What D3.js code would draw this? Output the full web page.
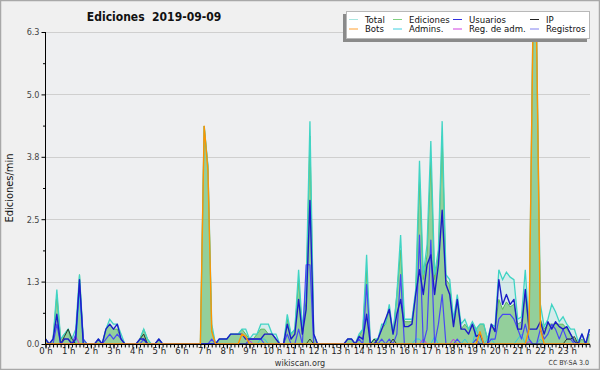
<!DOCTYPE html>
<html>
<head>
<meta charset="utf-8">
<script src="https://cdn.jsdelivr.net/npm/d3@7"></script>
<style>
  body { margin: 0; background: #fff; }
  svg { display: block; }
  text { font-family: "DejaVu Sans Condensed", "DejaVu Sans", sans-serif; font-stretch: condensed; }
</style>
</head>
<body>
<div id="chart"></div>
<script>
// 10-minute slots, values in actions per minute (0h00 .. 24h00)
var total = [
  0.1,0,0.1,1.1,0.1,0.2, 0.3,0.1,0.3,1.4,0.1,0,
  0,0,0.1,0,0.3,0.5, 0.4,0.4,0.2,0,0,0,
  0,0.1,0.3,0.1,0,0, 0.1,0,0,0,0,0,
  0,0,0,0,0,0, 4.4,3.6,0.4,0,0.1,0.1,
  0.1,0.2,0.2,0.2,0.3,0.3, 0.1,0.2,0.2,0.4,0.4,0.4,
  0.2,0.2,0,0,0.6,0.2, 0.3,1.5,0.3,1.2,4.5,0.2,
  0,0,0,0,0,0, 0,0,0.1,0.1,0,0.2,
  0.3,1.8,0,0.1,0.1,0.4, 0.4,0.8,0.2,1.0,2.2,0.5,
  0.5,0.5,1.1,3.7,1.4,2.0, 4.1,1.4,1.9,4.5,1.4,1.3,
  0.5,1.0,0.4,0.5,0.3,0.45, 0.3,0.4,0.4,0.1,0.4,0.35,
  1.5,1.3,1.45,1.35,1.3,0.5, 0.55,1.5,0.3,6.3,6.2,0.8,
  0.35,0.5,0.8,0.65,0.45,0.55, 0.4,0.3,0.3,0.05,0.2,0,
  0.3
];
var ediciones = [
  0.1,0,0.1,1.0,0.1,0.2, 0.3,0,0.1,1.4,0.1,0,
  0,0,0.1,0,0.3,0.4, 0.3,0.3,0.1,0,0,0,
  0,0.1,0.3,0.1,0,0, 0.1,0,0,0,0,0,
  0,0,0,0,0,0, 4.4,3.6,0.3,0,0.1,0.1,
  0.1,0.2,0.2,0.2,0.3,0.2, 0.1,0.1,0.2,0.3,0.3,0.2,
  0.2,0.1,0,0,0.5,0.2, 0.3,1.3,0.2,0.9,4.2,0.2,
  0,0,0,0,0,0, 0,0,0.1,0.1,0,0.15,
  0.3,1.5,0,0.1,0.1,0.3, 0.4,0.7,0.2,1.0,1.9,0.45,
  0.45,0.45,1.0,3.3,1.3,1.8, 3.7,1.3,1.8,4.2,1.3,1.2,
  0.4,0.9,0.3,0.4,0.3,0.4, 0.3,0.4,0.4,0.1,0.35,0.3,
  0.9,0.7,0.85,0.75,0.8,0.4, 0.45,1.0,0.3,6.2,6.1,0.5,
  0.3,0.4,0.4,0.4,0.4,0.4, 0.3,0.2,0.1,0,0.1,0,
  0.2
];
var usuarios = [
  0.1,0,0.1,0.6,0,0.1, 0.1,0,0.1,1.3,0,0,
  0,0,0.1,0,0.3,0.4, 0.3,0.4,0.1,0,0,0,
  0,0.1,0.1,0,0,0, 0.1,0,0,0,0,0,
  0,0,0,0,0,0, 0,0,0,0,0.1,0.1,
  0.1,0.2,0.2,0.2,0.2,0.1, 0.1,0.1,0.1,0.1,0.2,0.2,
  0.2,0.1,0,0,0.4,0.1, 0.2,0.9,0.2,0.7,2.9,0.2,
  0,0,0,0,0,0, 0,0,0.1,0.1,0,0.15,
  0.1,0.6,0,0,0.1,0.3, 0.5,0.7,0.2,0.6,0.9,0.35,
  0.35,0.4,1.0,1.5,1.0,1.6, 1.8,1.0,1.6,2.7,1.2,1.0,
  0.35,0.9,0.3,0.3,0.2,0.4, 0.15,0.2,0,0,0.4,0.25,
  1.3,0.8,1.0,0.8,0.9,0.3, 0.3,1.1,0.3,0.3,0.3,0.45,
  0.2,0.45,0.3,0.45,0.35,0.3, 0.35,0.2,0.05,0,0.2,0,
  0.3
];
var registros = [
  0,0,0,0.4,0,0, 0,0,0.2,1.2,0.1,0,
  0,0,0,0,0.1,0.2, 0.1,0.2,0.1,0,0,0,
  0,0,0.1,0,0,0, 0,0,0,0,0,0,
  0,0,0,0,0,0, 0,0,0.1,0,0,0,
  0,0,0,0,0,0, 0.1,0.1,0.1,0.1,0,0,
  0,0,0,0,0.2,0, 0,0.3,0,1.6,1.6,0,
  0,0,0,0,0,0, 0,0,0,0,0,0.1,
  0,1.2,0,0,0,0.1, 0,0.1,0,0.2,1.4,0,
  0,0,0,2.2,0,0.3, 2.1,0,0.4,1.0,0,0,
  0,0.1,0,0,0,0, 0.1,0,0,0,0.1,0.1,
  0.5,0.6,0.6,0.6,0.5,0.3, 0.1,0.4,0.1,0,0,0.3,
  0.1,0.2,0.4,0.3,0.1,0.3, 0.1,0.1,0,0,0,0,
  0
];
var ip = [
  0,0,0,0,0,0.15, 0.3,0.1,0,0,0,0,
  0,0,0,0,0,0, 0,0,0,0,0,0,
  0,0.1,0.2,0,0,0, 0.1,0,0,0,0,0,
  0,0,0,0,0,0, 0,0,0,0,0,0,
  0,0,0,0,0,0, 0,0,0,0,0,0,
  0,0,0,0,0,0, 0,0,0,0,0.1,0,
  0,0,0,0,0,0, 0,0,0,0,0,0,
  0,0,0,0.1,0,0, 0,0,0.1,0,0,0,
  0,0,0,0,0,0, 0,0,0,0,0,0,
  0,0,0,0,0,0, 0,0,0,0,0,0,
  0,0,0,0,0,0, 0,0,0,0,0,0,
  0,0,0,0,0,0, 0.1,0.1,0.15,0,0,0,
  0
];
var bots = [
  0,0,0,0,0,0, 0,0,0,0,0,0,
  0,0,0,0,0,0, 0,0,0,0,0,0,
  0,0,0,0,0,0, 0,0,0,0,0,0,
  0,0,0,0,0,0, 4.4,3.5,0.25,0,0,0,
  0,0,0,0,0.2,0.15, 0,0,0,0,0,0,
  0,0,0,0,0,0, 0,0,0,0,0,0,
  0,0,0,0,0,0, 0,0,0,0,0,0,
  0,0,0,0,0,0, 0,0,0,0,0,0,
  0,0,0,0,0,0, 0,0,0,0,0,0,
  0,0,0,0,0,0, 0,0.25,0,0,0,0,
  0,0,0,0,0,0, 0,0,0.3,6.2,6.2,0.3,
  0,0,0,0,0,0, 0,0,0,0,0,0,
  0
];
var admins = [
  0,0,0,0,0,0, 0,0,0,1.0,0,0,
  0,0,0,0,0,0, 0,0,0,0,0,0,
  0,0,0,0,0,0, 0,0,0,0,0,0,
  0,0,0,0,0,0, 0,0,0,0,0,0,
  0,0,0,0,0,0, 0,0,0,0.1,0.1,0,
  0,0,0,0,0,0, 0,0,0,0,0,0,
  0,0,0,0,0,0, 0,0,0,0,0,0,
  0,0,0,0,0,0, 0,0,0,0,0,0,
  0,0,0.1,0.1,0,0, 0,0.15,0,0,0,0,
  0,0,0,0.1,0,0, 0.3,0.1,0,0.1,0.1,0,
  0,0,0,0,0,0.1, 0.2,0,0.1,0,0,0.1,
  0,0,0,0,0,0, 0,0,0,0,0,0,
  0
];
var regAdm = [
  0,0,0,0,0,0, 0,0,0.15,0,0,0,
  0,0,0,0,0,0, 0,0,0,0,0,0,
  0,0,0,0,0,0, 0,0,0,0,0,0,
  0,0,0,0,0,0, 0,0,0,0,0,0,
  0,0,0,0,0,0, 0.07,0,0,0,0,0,
  0,0,0,0,0,0, 0,0,0,0,0,0,
  0,0,0,0,0,0, 0,0,0,0,0,0,
  0,0,0,0,0,0, 0,0,0,0,0,0,
  0,0,0,0,0.1,0, 0,0,0,0,0,0,
  0.1,0,0,0,0,0, 0,0,0,0,0,0,
  0,0,0,0,0,0, 0,0,0.05,0,0,0,
  0,0,0,0,0,0, 0,0,0,0,0,0,
  0
];

var yMax = 6.3;
var yTickLabels = ["0.0", "1.3", "2.5", "3.8", "5.0", "6.3"];
var hourLabels = d3.range(0, 24).map(function(h) { return h + " h"; });

var legendItems = [
  { name: "Total", color: "#a8e6e0" },
  { name: "Bots", color: "#ffa030" },
  { name: "Ediciones", color: "#80d080" },
  { name: "Admins.", color: "#40d0e0" },
  { name: "Usuarios", color: "#3030e0" },
  { name: "Reg. de adm.", color: "#d040e0" },
  { name: "IP", color: "#222222" },
  { name: "Registros", color: "#8080f0" }
];

var W = 600, H = 370;
var svg = d3.select("#chart").append("svg").attr("width", W).attr("height", H);

// background and frame
svg.append("rect").attr("x", 0.5).attr("y", 0.5).attr("width", W - 1).attr("height", H - 1)
  .attr("fill", "#f0f0f0").attr("stroke", "#a8a8a8").attr("stroke-width", 1.5);
svg.append("rect").attr("x", 45).attr("y", 32).attr("width", 545).attr("height", 312)
  .attr("fill", "#eeeff1");

var x = d3.scaleLinear().domain([0, 24]).range([45.5, 589.5]);
var y = d3.scaleLinear().domain([0, yMax]).range([344, 32]);

var yTicks = yTickLabels.map(function(l, i) { return yMax * i / 5; });
var yMinor = d3.range(0, 5).map(function(i) { return yMax * (i + 0.5) / 5; });

// grid
svg.append("g").selectAll("line").data(yTicks.slice(1)).enter().append("line")
  .attr("x1", 46).attr("x2", 590)
  .attr("y1", function(d) { return Math.round(y(d)) + 0.5; })
  .attr("y2", function(d) { return Math.round(y(d)) + 0.5; })
  .attr("stroke", "#cfcfcf").attr("stroke-width", 1);

function xv(d, i) { return x(i / 6); }

var areaOf = function(arr) {
  return d3.area().x(xv).y0(y(0)).y1(function(d) { return y(d); })(arr);
};
var lineOf = function(arr) {
  return d3.line().x(xv).y(function(d) { return y(d); })(arr);
};

var plot = svg.append("g");

plot.append("path").attr("d", areaOf(total)).attr("fill", "#48d8c8").attr("fill-opacity", 0.14);
plot.append("path").attr("d", areaOf(ediciones)).attr("fill", "#78c47c").attr("fill-opacity", 0.72);
plot.append("path").attr("d", lineOf(ediciones)).attr("fill", "none").attr("stroke", "#5cbc5c").attr("stroke-width", 1);
plot.append("path").attr("d", lineOf(total)).attr("fill", "none").attr("stroke", "#40d4c4").attr("stroke-width", 1.3);

var seriesLines = [
  { data: admins, color: "#30c8e0", w: 1 },
  { data: regAdm, color: "#cc33dd", w: 1 },
  { data: registros, color: "#4848f4", w: 1.2 },
  { data: ip, color: "#2a3a2a", w: 1 },
  { data: usuarios, color: "#1c1cc8", w: 1.4 },
  { data: bots, color: "#ff9400", w: 1.4 }
];
plot.selectAll(".sl").data(seriesLines).enter().append("path")
  .attr("class", "sl")
  .attr("d", function(s) { return lineOf(s.data); })
  .attr("fill", "none")
  .attr("stroke", function(s) { return s.color; })
  .attr("stroke-width", function(s) { return s.w; })
  .attr("stroke-linejoin", "round");

// y axis
var yAxis = svg.append("g").attr("transform", "translate(45.5,0)")
  .call(d3.axisLeft(y).tickValues(yTicks).tickSize(4).tickPadding(2)
    .tickFormat(function(d, i) { return yTickLabels[i]; }));
svg.append("g").attr("transform", "translate(45.5,0)")
  .call(d3.axisLeft(y).tickValues(yMinor).tickSize(2.5).tickFormat(""))
  .select(".domain").remove();
yAxis.selectAll("text").attr("font-size", 9).attr("fill", "#444")
  .attr("font-family", "'DejaVu Sans Condensed', 'DejaVu Sans', sans-serif");
yAxis.select(".domain").attr("d", "M0,32V344");

// x axis
var xAxis = svg.append("g").attr("transform", "translate(0,344.5)")
  .call(d3.axisBottom(x).tickValues(d3.range(0, 24)).tickSize(4)
    .tickFormat(function(d, i) { return hourLabels[i]; }));
svg.append("g").attr("transform", "translate(0,344.5)")
  .call(d3.axisBottom(x).tickValues(d3.range(0, 145).map(function(i) { return i / 6; })).tickSize(3).tickFormat(""))
  .select(".domain").remove();
xAxis.selectAll("text").attr("font-size", 9.5).attr("fill", "#222").attr("y", 2.5)
  .attr("font-family", "'DejaVu Sans Condensed', 'DejaVu Sans', sans-serif");
xAxis.select(".domain").attr("d", "M45.5,0H590");

// titles
svg.append("text").attr("x", 154).attr("y", 21).attr("text-anchor", "middle")
  .attr("font-size", 12).attr("font-weight", "bold").attr("fill", "#111")
  .style("white-space", "pre")
  .text("Ediciones  2019-09-09");
svg.append("text").attr("transform", "translate(13,188) rotate(-90)").attr("text-anchor", "middle")
  .attr("font-size", 11).attr("fill", "#111").attr("font-family", "'DejaVu Sans', sans-serif")
  .attr("font-stretch", "normal")
  .text("Ediciones/min");
svg.append("text").attr("x", 300).attr("y", 365.5).attr("text-anchor", "middle")
  .attr("font-size", 9).attr("fill", "#333").text("wikiscan.org");
svg.append("text").attr("x", 589).attr("y", 365).attr("text-anchor", "end")
  .attr("font-size", 7).attr("fill", "#333").text("CC BY-SA 3.0");

// legend
var lg = svg.append("g");
lg.append("rect").attr("x", 343).attr("y", 14).attr("width", 244).attr("height", 28).attr("fill", "#8a8a8a");
lg.append("rect").attr("x", 346.5).attr("y", 11.5).attr("width", 243).attr("height", 27)
  .attr("fill", "#fff").attr("stroke", "#b8b8b8");
var colX = [349, 393, 453, 530];
var rowY = [19, 28.5];
var items = lg.selectAll(".li").data(legendItems).enter().append("g").attr("class", "li")
  .attr("transform", function(d, i) {
    return "translate(" + colX[Math.floor(i / 2)] + "," + rowY[i % 2] + ")";
  });
items.append("line").attr("x1", 0).attr("x2", 9).attr("y1", 0.5).attr("y2", 0.5)
  .attr("stroke", function(d) { return d.color; }).attr("stroke-width", 1);
items.append("text").attr("x", 16).attr("y", 3.5).attr("font-size", 9.5).attr("fill", "#111")
  .text(function(d) { return d.name; });
</script>
</body>
</html>
